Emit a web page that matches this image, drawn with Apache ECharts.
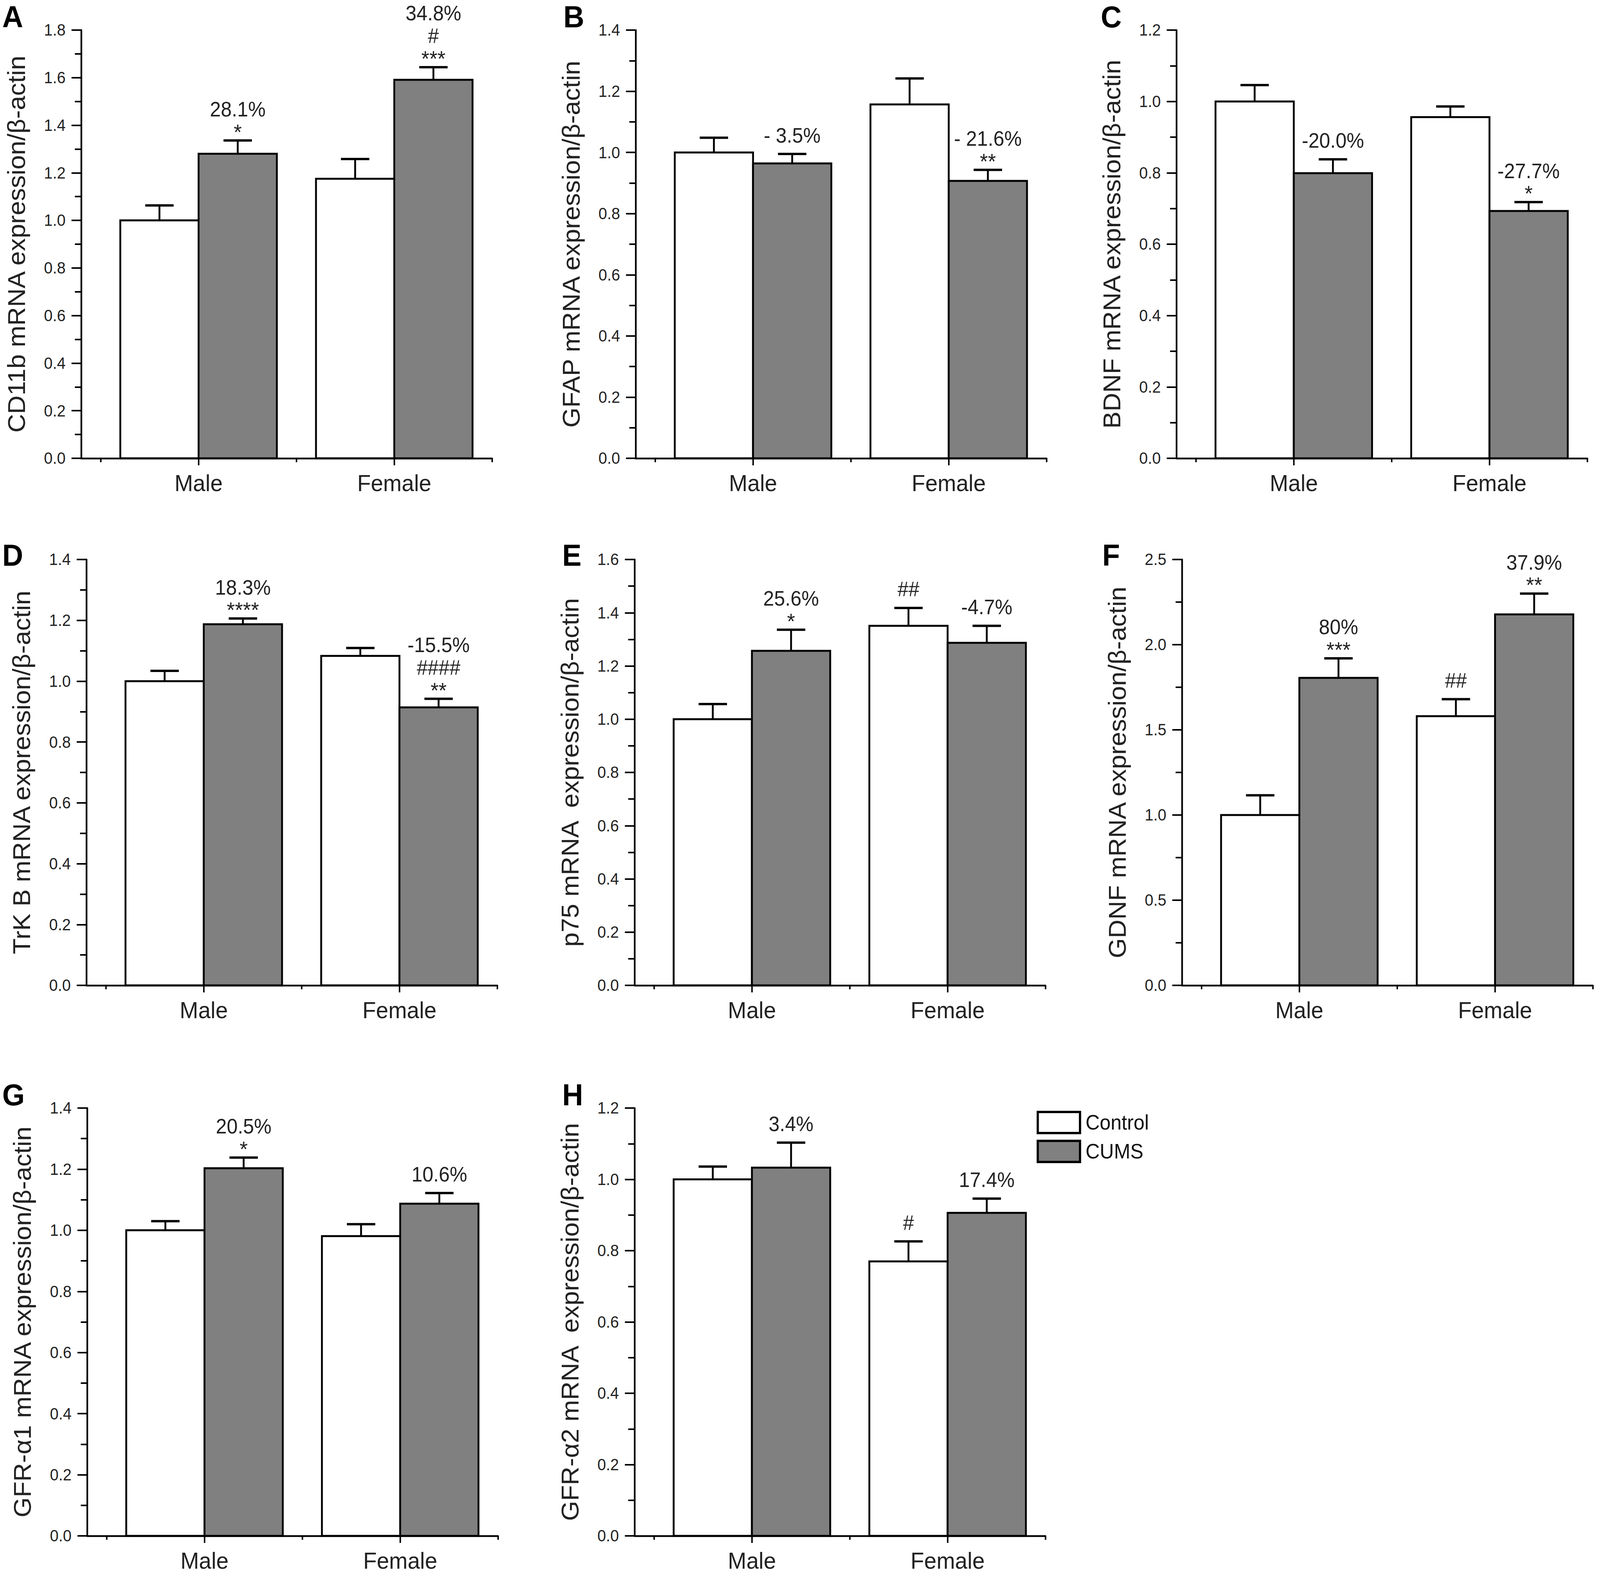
<!DOCTYPE html>
<html>
<head>
<meta charset="utf-8">
<title>mRNA expression, Control vs CUMS</title>
<script src="https://cdn.jsdelivr.net/npm/echarts@6/dist/echarts.min.js"></script>
<style>
  html, body { margin: 0; padding: 0; background: #fff; overflow: hidden; }
  #chart { width: 4317px; height: 4026px; transform-origin: 0 0; }
</style>
</head>
<body>
<div id="chart"></div>
<script>
// groups on the x axis and the two series
var groups = ['Male', 'Female'];
var seriesNames = ['Control', 'CUMS'];

// one entry per panel
var panelIds = ['A', 'B', 'C', 'D', 'E', 'F', 'G', 'H'];
var yTitles = [
  'CD11b mRNA expression/β-actin',
  'GFAP mRNA expression/β-actin',
  'BDNF mRNA expression/β-actin',
  'TrK B mRNA expression/β-actin',
  'p75 mRNA  expression/β-actin',
  'GDNF mRNA expression/β-actin',
  'GFR-α1 mRNA expression/β-actin',
  'GFR-α2 mRNA  expression/β-actin'
];
var yMax = [1.8, 1.4, 1.2, 1.4, 1.6, 2.5, 1.4, 1.2];
var yStep = [0.2, 0.2, 0.2, 0.2, 0.2, 0.5, 0.2, 0.2];

// means [Male, Female] and top of the error bar
var controlMean = [[1.00, 1.175], [1.00, 1.157], [1.00, 0.956], [1.00, 1.083], [1.00, 1.351], [1.00, 1.58], [1.00, 0.981], [1.00, 0.770]];
var controlTop  = [[1.063, 1.258], [1.048, 1.242], [1.046, 0.986], [1.034, 1.109], [1.057, 1.418], [1.116, 1.68], [1.030, 1.020], [1.036, 0.826]];
var cumsMean    = [[1.280, 1.591], [0.964, 0.907], [0.799, 0.693], [1.187, 0.914], [1.257, 1.287], [1.805, 2.178], [1.203, 1.087], [1.033, 0.906]];
var cumsTop     = [[1.336, 1.644], [0.995, 0.943], [0.838, 0.718], [1.206, 0.942], [1.336, 1.351], [1.920, 2.300], [1.238, 1.122], [1.103, 0.946]];

// text above each bar, top line first
var controlNotes = [
  [[], []], [[], []], [[], []], [[], []],
  [[], ['##']], [[], ['##']], [[], []], [[], ['#']]
];
var cumsNotes = [
  [['28.1%', '*'], ['34.8%', '#', '***']],
  [['- 3.5%'], ['- 21.6%', '**']],
  [['-20.0%'], ['-27.7%', '*']],
  [['18.3%', '****'], ['-15.5%', '####', '**']],
  [['25.6%', '*'], ['-4.7%']],
  [['80%', '***'], ['37.9%', '**']],
  [['20.5%', '*'], ['10.6%']],
  [['3.4%'], ['17.4%']]
];

// layout (px, on a 4317 x 4026 page): y axis x position, top of plot area
var PAGE_W = 4317, PAGE_H = 4026;
var gridPos = [
  [219, 77], [1715, 77], [3174, 77],
  [233, 1432], [1712, 1432], [3189, 1432],
  [235, 2836], [1712, 2836]
];
var gridH = [1096, 1096, 1096, 1090, 1090, 1090, 1095, 1095];
var letterPos = [
  [6, 4], [1520, 4], [2970, 4],
  [6, 1382], [1517, 1382], [2974, 1382],
  [6, 2763], [1517, 2763]
];

var FONT = 'Liberation Sans, Arial, sans-serif';
var X_MIN = 0.4, X_MAX = 2.5;
var UNIT = 528;           // px per x unit
var BAR_W = 0.4, CAP_W = 0.145;
var fills = ['#ffffff', '#808080'];

// the window may be narrower than the page: fit the page into it
var el = document.getElementById('chart');
el.style.transform = 'scale(' + (window.innerWidth / PAGE_W) + ',' + (window.innerHeight / PAGE_H) + ')';
var chart = echarts.init(el, null, { renderer: 'svg' });

function barSeries(p, s, means, tops, notes) {
  var data = groups.map(function (g, j) {
    return [j + 1 + (s === 0 ? -BAR_W / 2 : BAR_W / 2), means[p][j], tops[p][j]];
  });
  return {
    type: 'custom',
    name: seriesNames[s],
    xAxisIndex: p * 2,
    yAxisIndex: p,
    clip: false,
    data: data,
    renderItem: function (params, api) {
      var x = api.value(0), v = api.value(1), t = api.value(2);
      var a = api.coord([x - BAR_W / 2, v]);
      var b = api.coord([x + BAR_W / 2, 0]);
      var m = api.coord([x, v]);
      var e = api.coord([x, t]);
      var half = api.size([CAP_W, 0])[0] / 2;
      var children = [
        { type: 'rect', shape: { x: a[0], y: a[1], width: b[0] - a[0], height: b[1] - a[1] },
          style: { fill: fills[s], stroke: '#000', lineWidth: 5 } },
        { type: 'line', shape: { x1: m[0], y1: m[1], x2: e[0], y2: e[1] },
          style: { stroke: '#000', lineWidth: 5 } },
        { type: 'line', shape: { x1: e[0] - half, y1: e[1], x2: e[0] + half, y2: e[1] },
          style: { stroke: '#000', lineWidth: 6 } }
      ];
      // annotation lines, stacked upward from the error cap
      var lines = notes[p][params.dataIndex].slice().reverse();
      var y = e[1];
      lines.forEach(function (l, k) {
        var star = l.indexOf('*') >= 0;
        if (k === 0) y = e[1] - (star ? 22 : 48);
        else y -= 58;
        children.push({
          type: 'text', x: e[0], y: y,
          style: { text: l, align: 'center', verticalAlign: 'middle', fill: '#222',
            fontSize: star ? 56 : 53, fontFamily: FONT }
        });
      });
      return { type: 'group', children: children };
    }
  };
}

var grid = [], xAxis = [], yAxis = [], series = [];
panelIds.forEach(function (id, p) {
  grid.push({ left: gridPos[p][0], top: gridPos[p][1], width: (X_MAX - X_MIN) * UNIT, height: gridH[p],
    containLabel: false, outerBoundsMode: 'none' });
  // main x axis with group ticks and labels
  xAxis.push({
    type: 'value', gridIndex: p, min: X_MIN, max: X_MAX, position: 'bottom',
    axisLine: { show: true, onZero: false, lineStyle: { color: '#000', width: 4.5 } },
    axisTick: { show: true, customValues: [1, 2], length: 18, lineStyle: { color: '#000', width: 4 } },
    axisLabel: { customValues: [1, 2], margin: 33, fontSize: 60, fontFamily: FONT, color: '#222',
      formatter: function (v) { return groups[Math.round(v) - 1]; } },
    splitLine: { show: false }
  });
  // small ticks between groups
  xAxis.push({
    type: 'value', gridIndex: p, min: X_MIN, max: X_MAX, position: 'bottom',
    axisLine: { show: false, onZero: false },
    axisTick: { show: true, customValues: [0.5, 1.5, 2.5], length: 10, lineStyle: { color: '#000', width: 4 } },
    axisLabel: { show: false },
    splitLine: { show: false }
  });
  yAxis.push({
    type: 'value', gridIndex: p, min: 0, max: yMax[p], interval: yStep[p],
    name: yTitles[p], nameLocation: 'middle', nameGap: 141,
    nameTextStyle: { fontSize: 66, fontFamily: FONT, color: '#222' },
    axisLine: { show: true, lineStyle: { color: '#000', width: 4.5 } },
    axisTick: { show: true, length: 26, lineStyle: { color: '#000', width: 4 } },
    minorTick: { show: true, splitNumber: 2, length: 17, lineStyle: { color: '#000', width: 4 } },
    axisLabel: { fontSize: 42, fontFamily: FONT, color: '#222', margin: 42,
      formatter: function (v) { return v.toFixed(1); } },
    splitLine: { show: false }
  });
  series.push(barSeries(p, 0, controlMean, controlTop, controlNotes));
  series.push(barSeries(p, 1, cumsMean, cumsTop, cumsNotes));
});

chart.setOption({
  animation: false,
  backgroundColor: '#fff',
  grid: grid,
  xAxis: xAxis,
  yAxis: yAxis,
  legend: {
    left: 2797, top: 2843, orient: 'vertical', padding: 0,
    itemWidth: 114, itemHeight: 54, itemGap: 14, icon: 'rect', selectedMode: false,
    textStyle: { fontSize: 53, fontFamily: FONT, color: '#111', padding: [0, 0, 0, 10] },
    data: [
      { name: 'Control', itemStyle: { color: '#fff', borderColor: '#000', borderWidth: 6 } },
      { name: 'CUMS', itemStyle: { color: '#808080', borderColor: '#000', borderWidth: 6 } }
    ]
  },
  graphic: panelIds.map(function (id, p) {
    return { type: 'text', left: letterPos[p][0], top: letterPos[p][1],
      style: { text: id, font: 'bold 78px ' + FONT, fill: '#000' } };
  }),
  series: series
});
</script>
</body>
</html>
